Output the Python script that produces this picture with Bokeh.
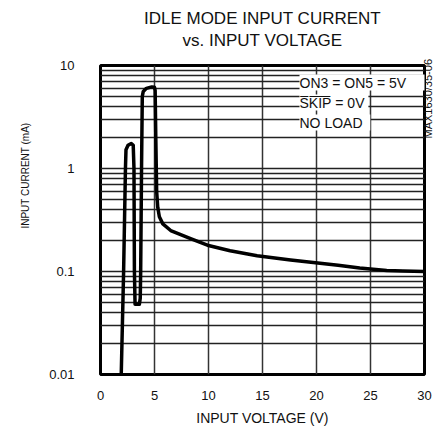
import math
from bokeh.plotting import figure
from bokeh.models import FixedTicker, Label, ColumnDataSource, Title, LogAxis
from bokeh.embed import file_html
from bokeh.resources import INLINE

# ---- data ----
voltage = [1.92, 2.14, 2.31, 2.36, 2.55, 2.85, 3.03, 3.10, 3.14, 3.20,
           3.60, 3.68, 3.72, 3.80, 3.87, 3.96, 4.25, 4.75, 5.00, 5.06,
           5.12, 5.20, 5.30, 5.45, 5.77, 6.50, 8.40, 9.90, 12.0, 14.5,
           17.6, 19.7, 22.0, 24.0, 26.5, 28.0, 30.0]
current = [0.010, 0.10, 1.00, 1.52, 1.68, 1.75, 1.68, 1.00, 0.10, 0.048,
           0.048, 0.055, 0.10, 1.00, 5.00, 5.60, 6.00, 6.20, 6.15, 5.70,
           2.00, 0.60, 0.42, 0.34, 0.29, 0.25, 0.207, 0.180, 0.159, 0.142,
           0.129, 0.122, 0.115, 0.108, 0.102, 0.101, 0.100]

x_ticks = [0, 5, 10, 15, 20, 25, 30]
x_grid = [5, 10, 15, 20, 25]
y_ticks = [0.01, 0.1, 1, 10]
y_tick_labels = ["0.01", "0.1", "1", "10"]
y_minor = [m * 10.0 ** e for e in (-2, -1, 0) for m in range(2, 10)]

title_lines = ["IDLE MODE INPUT CURRENT", "vs. INPUT VOLTAGE"]
x_label = "INPUT VOLTAGE (V)"
y_label = "INPUT CURRENT (mA)"
notes = ["ON3 = ON5 = 5V", "S\u0305K\u0305I\u0305P\u0305 = 0V", "NO LOAD"]
part_no = "MAX1630/35-06"

FONT = "Liberation Sans"
INK = "#111111"

W, H = 442, 434
FL, FR, FT, FB = 100, 424, 65, 374   # frame edges in canvas pixels

def vx(px):
    return (px - FL) / (FR - FL) * 30.0

def vy(py):
    return 10 ** (1 - 3.0 * (py - FT) / (FB - FT))

p = figure(width=W, height=H, x_range=(0, 30), y_range=(0.01, 10),
           y_axis_type="log", output_backend="svg", toolbar_location=None,
           title=None,
           min_border_left=FL, min_border_right=W - FR,
           min_border_top=FT, min_border_bottom=H - FB)
p.background_fill_color = "white"
p.border_fill_color = "white"
p.outline_line_color = "black"
p.outline_line_width = 3

# titles (first added sits nearest the plot)
t2 = Title(text=title_lines[1], align="center", text_font=FONT,
           text_font_size="17px", text_font_style="normal", text_color=INK,
           standoff=32)
t1 = Title(text=title_lines[0], align="center", text_font=FONT,
           text_font_size="17px", text_font_style="normal", text_color=INK,
           standoff=-30)
p.add_layout(t2, "above")
p.add_layout(t1, "above")

# grids
p.xgrid.ticker = FixedTicker(ticks=x_grid)
p.xgrid.grid_line_color = "#333333"
p.xgrid.grid_line_width = 1.5
p.ygrid.ticker = FixedTicker(ticks=y_ticks, minor_ticks=y_minor)
p.ygrid.grid_line_color = "#222222"
p.ygrid.grid_line_width = 1.5
p.ygrid.minor_grid_line_color = "#222222"
p.ygrid.minor_grid_line_width = 1.3

def plain(ax, size):
    ax.axis_line_color = None
    ax.major_tick_line_color = None
    ax.minor_tick_line_color = None
    ax.major_tick_out = 0
    ax.major_tick_in = 0
    ax.minor_tick_out = 0
    ax.minor_tick_in = 0
    ax.major_label_text_font = FONT
    ax.major_label_text_font_size = size
    ax.major_label_text_color = INK

plain(p.xaxis[0], "13px")
plain(p.yaxis[0], "13px")
p.xaxis.ticker = FixedTicker(ticks=x_ticks)
p.xaxis.major_label_standoff = 16
p.xaxis.axis_label = x_label
p.xaxis.axis_label_text_font = FONT
p.xaxis.axis_label_text_font_size = "14px"
p.xaxis.axis_label_text_font_style = "normal"
p.xaxis.axis_label_text_color = INK
p.xaxis.axis_label_standoff = 7
p.yaxis.ticker = FixedTicker(ticks=y_ticks, minor_ticks=[])
p.yaxis.major_label_overrides = {t: s for t, s in zip(y_ticks, y_tick_labels)}
p.yaxis.major_label_standoff = 26

# y-axis title (its upper end sits at the tick), above the frame centre as in the reference
y_label_at = vy(122)
lax = LogAxis(ticker=FixedTicker(ticks=[y_label_at], minor_ticks=[]),
              major_label_overrides={y_label_at: y_label},
              major_label_orientation=math.pi / 2,
              major_label_standoff=21)
plain(lax, "10px")
p.add_layout(lax, "left")

# part number at the right edge, written bottom-to-top (its lower end sits at the tick)
part_no_at = vy(138)
rax = LogAxis(ticker=FixedTicker(ticks=[part_no_at], minor_ticks=[]),
              major_label_overrides={part_no_at: part_no},
              major_label_orientation=math.pi / 2,
              major_label_standoff=3)
plain(rax, "11px")
p.add_layout(rax, "right")

src = ColumnDataSource(dict(v=voltage, i=current))
p.line("v", "i", source=src, line_color="black", line_width=3.5,
       line_join="round", line_cap="round")

def note(text, px, py):
    lab = Label(x=vx(px), y=vy(py), text=text,
                text_font=FONT, text_font_size="14px", text_color=INK,
                text_align="left", text_baseline="middle",
                background_fill_color="white", background_fill_alpha=1.0)
    p.add_layout(lab)

note(notes[0] + "        ", 299, 82)
note(notes[1] + " ", 299, 102)
note(notes[2] + "  ", 299, 122)

open("out.html", "w").write(file_html(p, INLINE))
